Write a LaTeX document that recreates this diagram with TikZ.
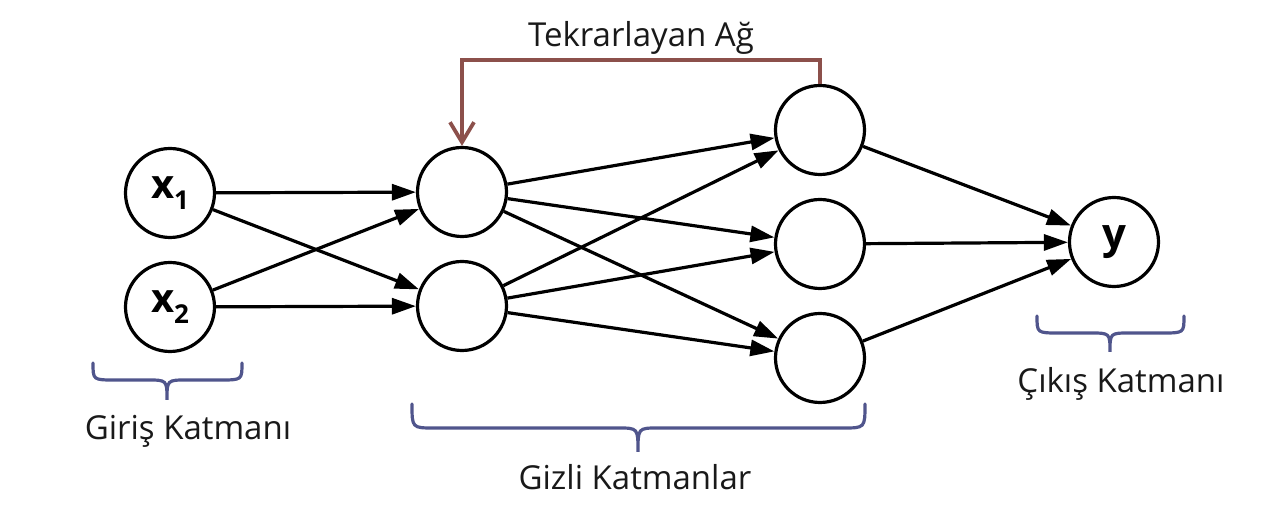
\documentclass[tikz,border=0pt]{standalone}
\usepackage{fontspec}
\setmainfont{Open Sans}
\usetikzlibrary{arrows.meta}
\definecolor{recred}{HTML}{8C504B}
\definecolor{brblue}{HTML}{50558C}
\tikzset{
  neuron/.style={circle, draw=black, line width=1.6pt, minimum size=44.5pt, inner sep=0pt, fill=white},
  conn/.style={line width=1.6pt, -{Triangle[length=12pt,width=8pt]}},
  recur/.style={line width=1.9pt, draw=recred, -{Straight Barb[length=10pt,width=12pt,line width=1.9pt]}},
  bracestyle/.style={line width=1.6pt, draw=brblue, line cap=round},
  lbl/.style={font=\fontsize{16.5}{18}\selectfont, anchor=base, inner sep=0pt, text=black!90}
}
\newcommand{\mybrace}[6]{% xa xb yt yb ytip xm
  \draw[bracestyle] (#1,#3) .. controls (#1,#4) .. (#1+22,#4) -- (#6-20,#4) .. controls (#6,#4) .. (#6,#5) .. controls (#6,#4) .. (#6+20,#4) -- (#2-22,#4) .. controls (#2,#4) .. (#2,#3);}
\newcommand{\xlab}[1]{\fontsize{20}{20}\selectfont\bfseries x\raisebox{-0.5ex}{\fontsize{13}{13}\selectfont #1}}
\begin{document}
\begin{tikzpicture}[x=0.5pt,y=-0.5pt]
\useasboundingbox (0,0) rectangle (1266,512);
% nodes
\node[neuron] (x1) at (170,193) {\xlab{1}};
\node[neuron] (x2) at (170,307) {\xlab{2}};
\node[neuron] (h1) at (462,192) {};
\node[neuron] (h2) at (462,306) {};
\node[neuron] (g1) at (820,130) {};
\node[neuron] (g2) at (820,244) {};
\node[neuron] (g3) at (820,358) {};
\node[neuron] (y) at (1114,242) {\fontsize{21}{21}\selectfont\bfseries y};
% connections
\foreach \a in {x1,x2}{\foreach \b in {h1,h2}{\draw[conn] (\a) -- (\b);}}
\foreach \a in {h1,h2}{\foreach \b in {g1,g2,g3}{\draw[conn] (\a) -- (\b);}}
\foreach \a in {g1,g2,g3}{\draw[conn] (\a) -- (y);}
% recurrent
\coordinate (rtop) at (820,60);
\draw[recur] (g1.north) -- (rtop) -| (h1.north);
\node[lbl] (tl) at (641,47) {Tekrarlayan Ağ};
% braces
\mybrace{93}{242}{363}{380}{400}{167}
\mybrace{412}{865}{404}{428}{452}{638}
\mybrace{1037}{1184}{316}{333}{352}{1110}
\node[lbl] (giris) at (188,440) {Giriş Katmanı};
\node[lbl] (gizli) at (635,490) {Gizli Katmanlar};
\node[lbl] (cikis) at (1121,393) {Çıkış Katmanı};
\end{tikzpicture}
\end{document}
